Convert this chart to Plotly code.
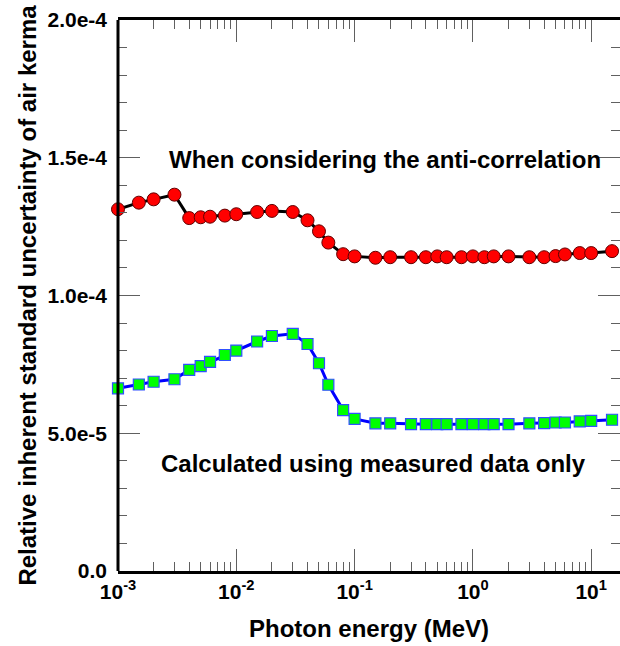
import plotly.graph_objects as go

# Photon energies (MeV)
energy = [1e-3, 1.5e-3, 2e-3, 3e-3, 4e-3, 5e-3, 6e-3, 8e-3, 1e-2, 1.5e-2, 2e-2, 3e-2,
          4e-2, 5e-2, 6e-2, 8e-2, 1e-1, 1.5e-1, 2e-1, 3e-1, 4e-1, 5e-1, 6e-1, 8e-1,
          1.0, 1.25, 1.5, 2.0, 3.0, 4.0, 5.0, 6.0, 8.0, 10.0, 15.0]

# With anti-correlation (red circles)
anti_corr = [1.313e-4, 1.337e-4, 1.349e-4, 1.366e-4, 1.281e-4, 1.284e-4, 1.286e-4, 1.290e-4,
             1.295e-4, 1.303e-4, 1.307e-4, 1.303e-4, 1.273e-4, 1.233e-4, 1.192e-4, 1.150e-4,
             1.142e-4, 1.137e-4, 1.139e-4, 1.139e-4, 1.139e-4, 1.142e-4, 1.139e-4, 1.139e-4,
             1.142e-4, 1.139e-4, 1.142e-4, 1.142e-4, 1.139e-4, 1.139e-4, 1.143e-4, 1.149e-4,
             1.154e-4, 1.154e-4, 1.161e-4]

# Measured data only (green squares)
measured = [6.63e-5, 6.77e-5, 6.87e-5, 6.96e-5, 7.30e-5, 7.44e-5, 7.59e-5, 7.84e-5,
            8.00e-5, 8.33e-5, 8.53e-5, 8.61e-5, 8.24e-5, 7.54e-5, 6.76e-5, 5.84e-5,
            5.52e-5, 5.36e-5, 5.36e-5, 5.33e-5, 5.33e-5, 5.33e-5, 5.33e-5, 5.33e-5,
            5.33e-5, 5.33e-5, 5.33e-5, 5.33e-5, 5.36e-5, 5.37e-5, 5.39e-5, 5.39e-5,
            5.43e-5, 5.45e-5, 5.49e-5]

x_tickvals = [1e-3, 1e-2, 1e-1, 1e0, 1e1]
x_ticktext = ["<b>10<sup>-3</sup></b>", "<b>10<sup>-2</sup></b>", "<b>10<sup>-1</sup></b>",
              "<b>10<sup>0</sup></b>", "<b>10<sup>1</sup></b>"]
y_tickvals = [0, 5e-5, 1e-4, 1.5e-4, 2e-4]
y_ticktext = ["<b>0.0</b>", "<b>5.0e-5</b>", "<b>1.0e-4</b>", "<b>1.5e-4</b>", "<b>2.0e-4</b>"]

x_minor = [m * d for d in [1e-3, 1e-2, 1e-1, 1e0, 1e1] for m in range(2, 10)]

FONT = "Liberation Sans, Arial, sans-serif"

fig = go.Figure()
fig.add_trace(go.Scatter(
    x=energy, y=anti_corr, mode="lines+markers",
    line=dict(color="black", width=3),
    marker=dict(symbol="circle", size=13, color="#ff0000",
                line=dict(color="#600000", width=1)),
    cliponaxis=False, showlegend=False))
fig.add_trace(go.Scatter(
    x=energy, y=measured, mode="lines+markers",
    line=dict(color="#0000ff", width=3),
    marker=dict(symbol="square", size=11, color="#00ff00",
                line=dict(color="#3050ff", width=1.2)),
    cliponaxis=False, showlegend=False))

fig.add_annotation(text="<b>When considering the anti-correlation</b>", xref="paper", yref="paper",
                   x=0.532, y=0.746, xanchor="center", yanchor="middle", showarrow=False,
                   font=dict(family=FONT, size=24, color="black"))
fig.add_annotation(text="<b>Calculated using measured data only</b>", xref="paper", yref="paper",
                   x=0.508, y=0.196, xanchor="center", yanchor="middle", showarrow=False,
                   font=dict(family=FONT, size=24, color="black"))

# left axis line (the right frame edge falls outside the window)
fig.add_shape(type="line", xref="paper", yref="paper", x0=0, x1=0, y0=0, y1=1,
              line=dict(color="black", width=3))

fig.update_xaxes(
    type="log", range=[-3, 1.2435],
    tickvals=x_tickvals, ticktext=x_ticktext,
    ticks="inside", ticklen=22, tickwidth=1, tickcolor="#606060",
    minor=dict(tickvals=x_minor, ticks="inside", ticklen=9, tickwidth=1, tickcolor="#606060",
               showgrid=False),
    showline=True, linecolor="black", linewidth=3, mirror="allticks",
    showgrid=False, zeroline=False,
    tickfont=dict(family=FONT, size=21, color="black"),
    ticklabelstandoff=0,
    title=dict(text="<b>Photon energy (MeV)</b>", standoff=18,
               font=dict(family=FONT, size=24, color="black")))
fig.update_yaxes(
    range=[0, 2e-4],
    tickvals=y_tickvals, ticktext=y_ticktext,
    ticks="inside", ticklen=22, tickwidth=1, tickcolor="#606060",
    minor=dict(dtick=1e-5, tick0=0, ticks="inside", ticklen=9, tickwidth=1, tickcolor="#606060",
               showgrid=False),
    showline=False, mirror="allticks",
    showgrid=False, zeroline=False,
    tickfont=dict(family=FONT, size=21, color="black"),
    ticklabelstandoff=10,
    title=dict(text="<b>Relative inherent standard uncertainty of air kerma</b>", standoff=4,
               font=dict(family=FONT, size=24, color="black")))

fig.update_layout(
    width=620, height=646,
    margin=dict(l=118, r=0, t=20, b=75),
    paper_bgcolor="white", plot_bgcolor="white",
    font=dict(family=FONT, color="black"))

fig.write_html("out.html", config={"displayModeBar": False})

# remove default page margin so the figure sits at the window origin
with open("out.html", encoding="utf-8") as f:
    html = f.read()
html = html.replace("<head>", "<head><style>html,body{margin:0;padding:0;overflow:hidden;}</style>", 1)
with open("out.html", "w", encoding="utf-8") as f:
    f.write(html)
